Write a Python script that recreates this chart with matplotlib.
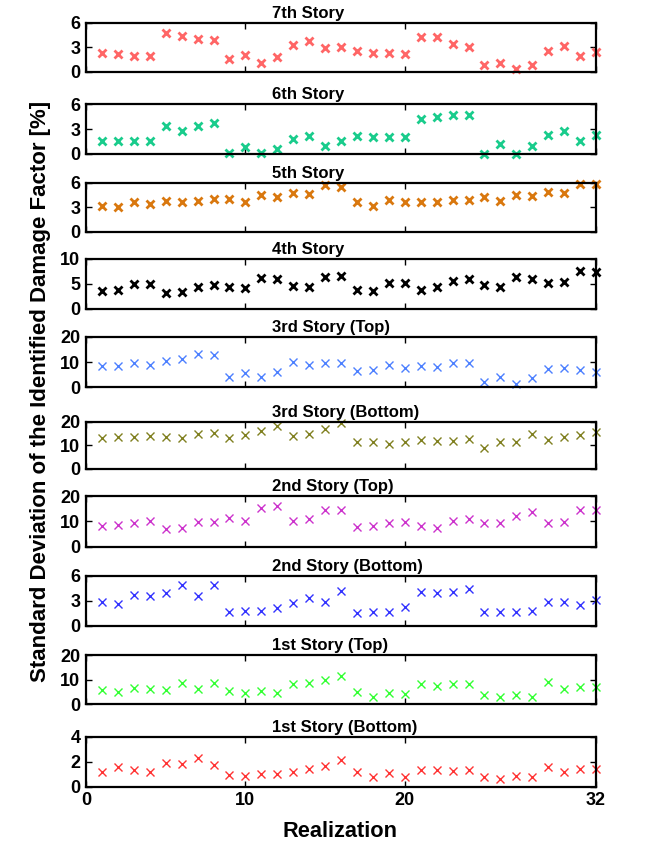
import matplotlib
matplotlib.use("Agg")
import matplotlib.pyplot as plt
import numpy as np

plt.rcParams['font.family'] = ['Liberation Sans', 'DejaVu Sans']
plt.rcParams['font.weight'] = 'bold'

realization = list(range(1, 33))

titles = ["7th Story", "6th Story", "5th Story", "4th Story",
          "3rd Story (Top)", "3rd Story (Bottom)", "2nd Story (Top)",
          "2nd Story (Bottom)", "1st Story (Top)", "1st Story (Bottom)"]

story7 = [2.3, 2.2, 1.9, 2.0, 4.8, 4.4, 4.0, 3.9, 1.6, 2.1, 1.1, 1.8, 3.3, 3.8, 2.9, 3.1,
          2.5, 2.3, 2.3, 2.2, 4.3, 4.3, 3.4, 3.1, 0.85, 1.1, 0.4, 0.85, 2.5, 3.2, 1.9, 2.4]
story6 = [1.5, 1.6, 1.5, 1.6, 3.3, 2.8, 3.4, 3.7, 0.1, 0.8, 0.1, 0.6, 1.8, 2.1, 0.9, 1.5,
          2.2, 2.0, 2.0, 2.0, 4.2, 4.4, 4.7, 4.7, 0.0, 1.2, 0.0, 1.0, 2.3, 2.8, 1.5, 2.3]
story5 = [3.2, 3.0, 3.6, 3.4, 3.8, 3.7, 3.8, 4.0, 4.0, 3.7, 4.5, 4.3, 4.8, 4.6, 5.7, 5.5,
          3.6, 3.2, 3.9, 3.7, 3.6, 3.6, 3.9, 3.9, 4.2, 3.8, 4.5, 4.4, 4.9, 4.8, 5.9, 5.8]
story4 = [3.5, 3.7, 4.9, 4.9, 3.1, 3.3, 4.3, 4.7, 4.3, 4.1, 6.2, 5.9, 4.6, 4.4, 6.3, 6.5,
          3.7, 3.6, 5.2, 5.1, 3.8, 4.3, 5.6, 5.9, 4.8, 4.3, 6.4, 5.9, 5.1, 5.3, 7.5, 7.4]
story3_top = [8.6, 8.3, 9.6, 8.8, 10.4, 11.1, 13.0, 12.9, 3.9, 5.5, 3.9, 6.1, 10.0, 8.9, 9.5, 9.6,
              6.4, 6.7, 8.9, 7.8, 8.4, 8.0, 9.5, 9.6, 2.2, 4.2, 1.4, 3.6, 7.2, 7.5, 6.7, 6.2]
story3_bot = [13.2, 13.4, 13.5, 13.8, 13.5, 13.2, 14.9, 15.3, 13.2, 14.2, 15.9, 18.0, 14.1, 14.9, 16.8, 19.4,
              11.5, 11.4, 10.4, 11.4, 12.2, 11.7, 11.7, 12.8, 8.7, 11.3, 11.4, 14.6, 12.4, 13.6, 14.5, 15.5]
story2_top = [8.0, 8.7, 9.2, 10.1, 7.1, 7.5, 9.9, 9.6, 11.4, 10.3, 15.1, 16.1, 10.3, 10.9, 14.3, 14.5,
              7.6, 8.0, 9.3, 9.9, 8.0, 7.2, 10.3, 10.8, 9.2, 9.2, 12.2, 13.8, 9.2, 9.7, 14.3, 14.3]
story2_bot = [2.8, 2.6, 3.7, 3.6, 3.9, 4.9, 3.6, 4.9, 1.6, 1.8, 1.8, 2.1, 2.7, 3.3, 2.8, 4.2,
              1.5, 1.6, 1.6, 2.3, 4.0, 3.9, 4.0, 4.4, 1.6, 1.6, 1.6, 1.8, 2.8, 2.8, 2.5, 3.1]
story1_top = [5.7, 5.0, 6.7, 6.3, 5.7, 8.6, 6.1, 8.4, 5.2, 4.6, 5.3, 4.4, 8.0, 8.7, 9.7, 11.6,
              4.8, 3.0, 4.4, 4.2, 8.0, 7.3, 8.2, 8.2, 3.7, 3.0, 3.8, 3.0, 9.1, 6.1, 7.1, 6.8]
story1_bot = [1.2, 1.6, 1.3, 1.2, 1.9, 1.8, 2.3, 1.7, 0.9, 0.85, 1.05, 1.0, 1.2, 1.4, 1.65, 2.1,
              1.2, 0.75, 1.1, 0.75, 1.3, 1.3, 1.25, 1.3, 0.75, 0.65, 0.85, 0.75, 1.55, 1.2, 1.4, 1.45]

series = [story7, story6, story5, story4, story3_top, story3_bot,
          story2_top, story2_bot, story1_top, story1_bot]

ylims = [6, 6, 6, 10, 20, 20, 20, 6, 20, 4]
yticks = [[0, 3, 6], [0, 3, 6], [0, 3, 6], [0, 5, 10], [0, 10, 20], [0, 10, 20],
          [0, 10, 20], [0, 3, 6], [0, 10, 20], [0, 2, 4]]
xticks = [0, 10, 20, 32]

colors = ["#FF6666", "#1ACC8C", "#D9780F", "#000000", "#4D80FF", "#808020",
          "#CC33CC", "#3333FF", "#33FF33", "#FF3333"]
bold_markers = [True, True, True, True, False, False, False, False, False, False]

W, H = 659, 846
fig = plt.figure(figsize=(W / 100, H / 100), dpi=100)

left_px, right_px = 86, 596
panels_px = [(22.7, 72), (104, 154), (182.7, 232), (258.7, 308.7), (336.7, 387.3),
             (421.7, 468.7), (496, 546.7), (575.7, 625.7), (655, 704), (736.7, 786.7)]
title_x = (272 - left_px) / (right_px - left_px)

for i, (top, bot) in enumerate(panels_px):
    ax = fig.add_axes([left_px / W, 1 - bot / H, (right_px - left_px) / W, (bot - top) / H])
    lw = 2.0 if bold_markers[i] else 1.0
    ax.plot(realization, series[i], linestyle='none', marker='x', markersize=6.3,
            markeredgewidth=lw, color=colors[i], clip_on=False)
    ax.set_xlim(0, 32)
    ax.set_ylim(0, ylims[i])
    ax.set_yticks(yticks[i])
    ax.set_xticks(xticks)
    ax.tick_params(direction='in', top=True, right=True, length=4, width=1,
                   labelsize=13, pad=4)
    for lab in ax.get_yticklabels() + ax.get_xticklabels():
        lab.set_fontweight('bold')
    if i < len(panels_px) - 1:
        ax.set_xticklabels([])
    for sp in ax.spines.values():
        sp.set_linewidth(1.6)
    ax.set_title(titles[i], fontsize=12, fontweight='bold', pad=3.6,
                 loc='left', x=title_x)

fig.text(41 / W, 1 - 391 / H, "Standard Deviation of the Identified Damage Factor [%]",
         rotation=90, ha='center', va='center', fontsize=16, fontweight='bold')
fig.text(340 / W, 1 - 831 / H, "Realization",
         ha='center', va='center', fontsize=15.7, fontweight='bold')

fig.savefig("out.png", dpi=100)
